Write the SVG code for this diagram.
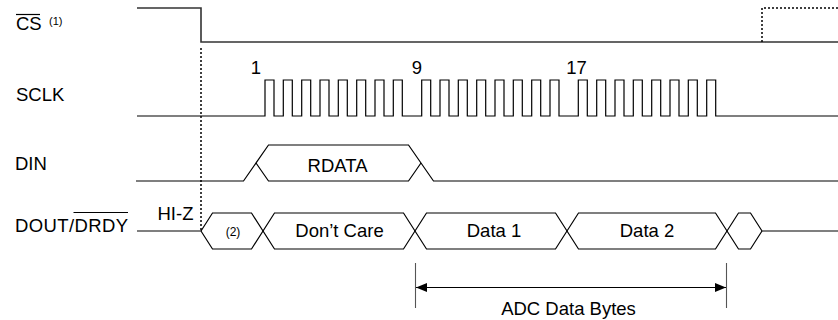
<svg xmlns="http://www.w3.org/2000/svg" width="838" height="320" viewBox="0 0 838 320">
<defs>
<style>
text{font-family:"Liberation Sans",Arial,Helvetica,sans-serif;fill:#000}
.lbl{font-size:18.5px}
.sm{font-size:11px}
.mid{text-anchor:middle}
.sig{fill:none;stroke:#000;stroke-width:1.2;stroke-linejoin:miter}
.cs{fill:none;stroke:#333;stroke-width:1.6}
.dot{fill:none;stroke:#000;stroke-width:1.5;stroke-dasharray:2 2}
.tick{stroke:#555;stroke-width:1.1}
.ol{stroke:#000;stroke-width:1.2}
</style>
<marker id="ah" viewBox="0 0 11 9" refX="11" refY="4.5" markerWidth="11" markerHeight="9" markerUnits="userSpaceOnUse" orient="auto-start-reverse">
<path d="M0,0 L11,4.5 L0,9 Z" fill="#000"/>
</marker>
</defs>
<rect width="838" height="320" fill="#fff"/>

<g id="labels">
<text class="lbl" x="16" y="29.5">CS</text>
<line class="ol" x1="16" y1="14.5" x2="40" y2="14.5"/>
<text class="sm" x="49" y="24.5">(1)</text>
<text class="lbl" x="16" y="100.5">SCLK</text>
<text class="lbl" x="15" y="170">DIN</text>
<text class="lbl" x="15" y="231.5" textLength="113">DOUT/DRDY</text>
<line class="ol" x1="73.5" y1="212.5" x2="128" y2="212.5"/>
</g>

<g id="cs-signal">
<path class="cs" d="M137,8 H201 V42 H838"/>
<path class="dot" d="M762,42 V8 H838"/>
</g>

<g id="sclk-signal">
<path class="sig" d="M137,116 H265 V80 H274 V116 H283.3 V80 H292.3 V116 H301.7 V80 H310.7 V116 H320 V80 H329 V116 H338.3 V80 H347.3 V116 H356.7 V80 H365.7 V116 H375 V80 H384 V116 H393.3 V80 H402.3 V116 H421.7 V80 H430.7 V116 H440 V80 H449 V116 H458.3 V80 H467.3 V116 H476.7 V80 H485.7 V116 H495 V80 H504 V116 H513.3 V80 H522.3 V116 H531.7 V80 H540.7 V116 H550 V80 H559 V116 H578.3 V80 H587.3 V116 H596.7 V80 H605.7 V116 H615 V80 H624 V116 H633.3 V80 H642.3 V116 H651.7 V80 H660.7 V116 H670 V80 H679 V116 H688.3 V80 H697.3 V116 H706.7 V80 H715.7 V116 H838"/>
<text class="lbl mid" x="256" y="74">1</text>
<text class="lbl mid" x="417" y="73.5">9</text>
<text class="lbl mid" x="576.5" y="74">17</text>
</g>

<g id="din-signal">
<path class="sig" d="M136,181 H243.5 L268.5,145 H408.5 L433.5,181 H838"/>
<path class="sig" d="M256,163 L268.5,181 H408.5 L421,163"/>
<text class="lbl mid" x="337.5" y="171.5">RDATA</text>
</g>

<g id="dout-signal">
<path class="sig" d="M201,231 L212.5,213 H251.5 L274.5,249 H403.5 L426.5,213 H555.5 L578.5,249 H715.5 L738.5,213 H750.5 L762,231 H838"/>
<path class="sig" d="M137,231 H201 L212.5,249 H251.5 L274.5,213 H403.5 L426.5,249 H555.5 L578.5,213 H715.5 L738.5,249 H750.5 L762,231"/>
<text class="lbl" x="157.5" y="219.5">HI-Z</text>
<text class="mid" x="233" y="236" style="font-size:12px">(2)</text>
<text class="lbl mid" x="339.5" y="237">Don’t Care</text>
<text class="lbl mid" x="494" y="237">Data 1</text>
<text class="lbl mid" x="647" y="237">Data 2</text>
</g>

<g id="connectors">
<path class="dot" d="M201,48 V231"/>
<line class="tick" x1="415.5" y1="263" x2="415.5" y2="308"/>
<line class="tick" x1="726.5" y1="263" x2="726.5" y2="308"/>
<line x1="416" y1="287.5" x2="726" y2="287.5" stroke="#000" stroke-width="1.2" marker-start="url(#ah)" marker-end="url(#ah)"/>
<text class="lbl mid" x="568.5" y="315">ADC Data Bytes</text>
</g>
</svg>
